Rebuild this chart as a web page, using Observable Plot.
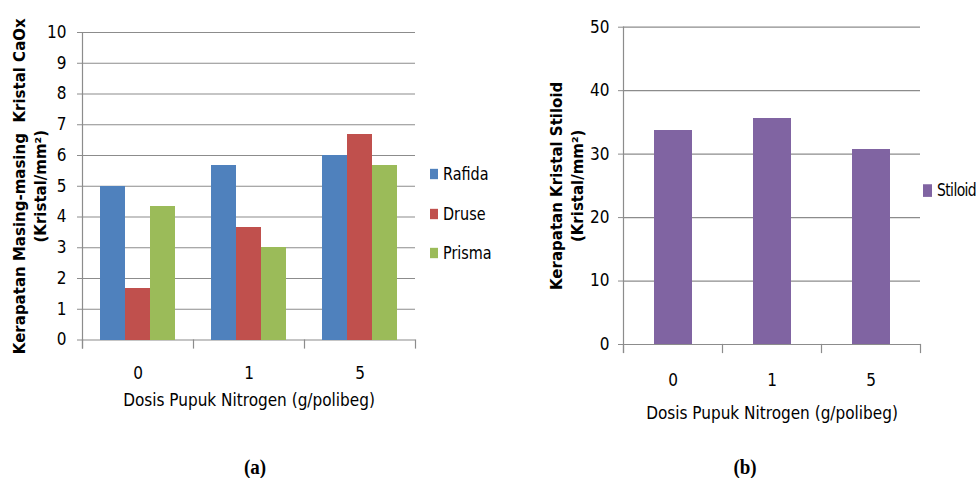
<!DOCTYPE html>
<html><head><meta charset="utf-8">
<script src="https://cdn.jsdelivr.net/npm/d3@7"></script>
<script src="https://cdn.jsdelivr.net/npm/@observablehq/plot@0.6"></script>
<style>
body{margin:0;background:#fff;}
#wrap{position:relative;width:977px;height:478px;overflow:hidden;font-family:"Liberation Sans Narrow","DejaVu Sans Condensed",sans-serif;}
.plot{position:absolute;top:0;}
.leg{position:absolute;font-size:16px;color:#000;display:flex;align-items:center;transform:translateY(-50%) scaleY(1.15);white-space:nowrap;}
.sw{display:inline-block;width:8px;height:9px;margin-right:5px;}
.cap{position:absolute;font-family:"Liberation Serif",serif;font-weight:bold;font-size:19px;transform:translate(-50%,-50%) scaleY(1.1);}
</style></head><body><div id="wrap"></div>
<script>
// ---- data ----
const doses = ["0", "1", "5"];
const crystalTypes = ["Rafida", "Druse", "Prisma"];
const rafida = [5, 5.67, 6];
const druse = [1.67, 3.67, 6.67];
const prisma = [4.33, 3, 5.67];
const stiloid = [33.8, 35.6, 30.8];
const yTicksA = [0, 1, 2, 3, 4, 5, 6, 7, 8, 9, 10];
const yTicksB = [0, 10, 20, 30, 40, 50];
const colorsA = ["#4F81BD", "#C0504D", "#9BBB59"];
const colorB = "#8064A2";
const xTitle = "Dosis Pupuk Nitrogen (g/polibeg)";
const yTitleA = "Kerapatan Masing-masing  Kristal CaOx\n(Kristal/mm²)";
const yTitleB = "Kerapatan Kristal Stiloid\n(Kristal/mm²)";

// ---- tables ----
const seriesA = [rafida, druse, prisma];
const caox = doses.flatMap((d, i) => crystalTypes.map((t, j) => ({dose: d, type: t, value: seriesA[j][i]})));
const stil = doses.map((d, i) => ({dose: d, type: "Stiloid", value: stiloid[i]}));

const grid = "#8c8c8c";
const tickFont = '"Liberation Sans Narrow","DejaVu Sans Condensed",sans-serif';
const titleFont = '"DejaVu Sans",sans-serif';

function makeChart({data, types, colors, yDomain, yTicks, w, h, ml, mr, mt, mb, padOuter, yTitle, yTitleDx, tickPad, fxPad, labelOffset}) {
  const fh = h - mt - mb;
  return Plot.plot({
    width: w, height: h,
    marginLeft: ml, marginRight: mr, marginTop: mt, marginBottom: mb,
    style: {fontFamily: tickFont, fontSize: "17px", color: "#000", background: "transparent", overflow: "visible"},
    fx: {domain: doses, padding: 0, label: null},
    x: {domain: types, paddingInner: 0, paddingOuter: padOuter, axis: null},
    y: {domain: yDomain, label: null},
    color: {domain: types, range: colors},
    marks: [
      Plot.ruleY(yTicks, {stroke: grid, strokeWidth: 1.2}),
      Plot.barY(data, {fx: "dose", x: "type", y: "value", fill: "type", shapeRendering: "crispEdges"}),
      Plot.axisY({ticks: yTicks, tickSize: 5, tickPadding: tickPad, stroke: grid, fill: "#000", label: null, tickFormat: d => String(d)}),
      Plot.frame({anchor: "left", facetAnchor: "left", stroke: grid, strokeWidth: 1.2, insetBottom: -8}),
      Plot.frame({anchor: "left", stroke: grid, strokeWidth: 1.2, insetTop: fh, insetBottom: -8}),
      Plot.frame({anchor: "right", facetAnchor: "right", stroke: grid, strokeWidth: 1.2, insetTop: fh, insetBottom: -8}),
      Plot.axisFx({anchor: "bottom", tickSize: 0, tickPadding: fxPad, label: xTitle, labelAnchor: "center", labelOffset: labelOffset, fontSize: 17}),
      Plot.text([yTitle], {text: d => d, frameAnchor: "left", textAnchor: "middle", lineAnchor: "middle", rotate: -90, dx: yTitleDx, fontWeight: "bold", fontFamily: titleFont, fontSize: 15, letterSpacing: 0.3, lineHeight: 1.45, facetAnchor: "left"})
    ]
  });
}

const wrap = document.getElementById("wrap");

const a = makeChart({data: caox, types: crystalTypes, colors: colorsA, yDomain: [0, 10], yTicks: yTicksA,
  w: 430, h: 420, ml: 82, mr: 15, mt: 32, mb: 80.5, padOuter: 0.72, yTitle: yTitleA, yTitleDx: -54,
  tickPad: 11, fxPad: 27, labelOffset: 66});
a.classList.add("plot"); a.style.left = "0px";
wrap.appendChild(a);

const b = makeChart({data: stil, types: ["Stiloid"], colors: [colorB], yDomain: [0, 50], yTicks: yTicksB,
  w: 437, h: 420, ml: 82.3, mr: 56.3, mt: 26.7, mb: 76, padOuter: 0.776, yTitle: yTitleB, yTitleDx: -58,
  tickPad: 9, fxPad: 29, labelOffset: 74});
b.classList.add("plot"); b.style.left = "540px";
wrap.appendChild(b);

// legends
function legend(items, colors, x, ys, sw, extra) {
  items.forEach((t, i) => {
    const d = document.createElement("div");
    d.className = "leg";
    d.style.left = x + "px"; d.style.top = ys[i] + "px";
    if (extra) Object.assign(d.style, extra);
    const s = document.createElement("span");
    s.className = "sw"; s.style.background = colors[i];
    s.style.width = sw[0] + "px"; s.style.height = sw[1] + "px";
    d.appendChild(s);
    d.appendChild(document.createTextNode(t));
    wrap.appendChild(d);
  });
}
legend(crystalTypes, colorsA, 430, [174, 214, 253], [8, 9]);
legend(["Stiloid"], [colorB], 923, [190], [9, 11], {letterSpacing: "-0.6px", fontSize: "15.5px"});

// captions
[["(a)", 255], ["(b)", 745]].forEach(([t, x]) => {
  const c = document.createElement("div");
  c.className = "cap"; c.textContent = t;
  c.style.left = x + "px"; c.style.top = "467px";
  wrap.appendChild(c);
});
</script></body></html>
